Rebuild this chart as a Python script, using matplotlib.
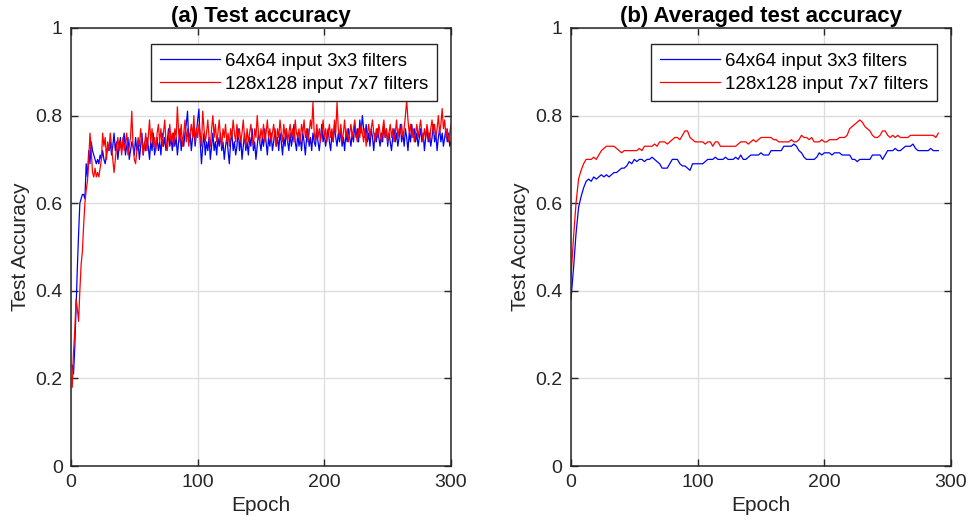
import numpy as np
import matplotlib
matplotlib.use('Agg')
import matplotlib.pyplot as plt

plt.rcParams['font.family'] = ['Liberation Sans', 'DejaVu Sans']

# (a) raw test accuracy, epochs 1..300
blue_a = [
    0.23, 0.21, 0.27, 0.36, 0.45, 0.53, 0.60, 0.61, 0.62, 0.62, 0.61, 0.69, 0.66, 0.72, 0.69, 0.74, 0.72, 0.71, 0.70, 0.69,
    0.70, 0.69, 0.71, 0.70, 0.72, 0.70, 0.69, 0.71, 0.73, 0.72, 0.74, 0.71, 0.73, 0.76, 0.72, 0.74, 0.70, 0.73, 0.75, 0.72,
    0.74, 0.76, 0.71, 0.73, 0.75, 0.70, 0.72, 0.74, 0.73, 0.71, 0.75, 0.72, 0.74, 0.70, 0.73, 0.76, 0.71, 0.74, 0.72, 0.75,
    0.73, 0.70, 0.74, 0.72, 0.76, 0.71, 0.73, 0.75, 0.72, 0.74, 0.71, 0.76, 0.73, 0.75, 0.72, 0.74, 0.77, 0.73, 0.75, 0.72,
    0.76, 0.73, 0.75, 0.71, 0.74, 0.77, 0.72, 0.75, 0.73, 0.76, 0.78, 0.81, 0.74, 0.76, 0.72, 0.75, 0.77, 0.73, 0.76, 0.79,
    0.815, 0.74, 0.69, 0.73, 0.76, 0.71, 0.74, 0.72, 0.75, 0.70, 0.73, 0.76, 0.72, 0.74, 0.71, 0.75, 0.73, 0.76, 0.72, 0.74,
    0.70, 0.73, 0.75, 0.72, 0.69, 0.74, 0.76, 0.72, 0.74, 0.71, 0.73, 0.77, 0.72, 0.75, 0.70, 0.73, 0.76, 0.72, 0.74, 0.71,
    0.75, 0.73, 0.77, 0.72, 0.74, 0.70, 0.73, 0.76, 0.74, 0.72, 0.75, 0.73, 0.77, 0.74, 0.71, 0.75, 0.73, 0.76, 0.72, 0.74,
    0.77, 0.73, 0.75, 0.72, 0.76, 0.74, 0.71, 0.75, 0.73, 0.77, 0.74, 0.72, 0.76, 0.73, 0.75, 0.78, 0.74, 0.72, 0.76, 0.73,
    0.75, 0.72, 0.76, 0.74, 0.71, 0.75, 0.77, 0.73, 0.75, 0.72, 0.76, 0.74, 0.73, 0.77, 0.74, 0.72, 0.75, 0.78, 0.74, 0.76,
    0.73, 0.75, 0.77, 0.74, 0.72, 0.76, 0.74, 0.78, 0.75, 0.73, 0.76, 0.74, 0.77, 0.73, 0.75, 0.72, 0.76, 0.74, 0.77, 0.75,
    0.73, 0.76, 0.74, 0.78, 0.75, 0.77, 0.74, 0.79, 0.76, 0.80, 0.77, 0.75, 0.78, 0.74, 0.76, 0.73, 0.77, 0.75, 0.72, 0.76,
    0.74, 0.77, 0.75, 0.73, 0.76, 0.74, 0.78, 0.75, 0.77, 0.73, 0.76, 0.74, 0.72, 0.75, 0.77, 0.74, 0.76, 0.73, 0.75, 0.78,
    0.74, 0.76, 0.73, 0.77, 0.75, 0.72, 0.76, 0.74, 0.78, 0.75, 0.77, 0.74, 0.76, 0.73, 0.75, 0.77, 0.74, 0.76, 0.72, 0.75,
    0.77, 0.74, 0.76, 0.73, 0.75, 0.78, 0.74, 0.76, 0.72, 0.75, 0.77, 0.74, 0.76, 0.73, 0.75, 0.77, 0.74, 0.76, 0.73, 0.74,
]
red_a = [
    0.18, 0.26, 0.31, 0.38, 0.36, 0.33, 0.40, 0.46, 0.49, 0.55, 0.60, 0.63, 0.65, 0.70, 0.76, 0.72, 0.67, 0.66, 0.68, 0.66,
    0.67, 0.66, 0.68, 0.70, 0.76, 0.73, 0.75, 0.70, 0.74, 0.72, 0.76, 0.73, 0.70, 0.67, 0.70, 0.73, 0.75, 0.72, 0.74, 0.71,
    0.75, 0.72, 0.74, 0.76, 0.71, 0.73, 0.75, 0.81, 0.73, 0.70, 0.69, 0.72, 0.75, 0.73, 0.77, 0.74, 0.71, 0.73, 0.76, 0.72,
    0.75, 0.79, 0.74, 0.77, 0.73, 0.75, 0.72, 0.76, 0.78, 0.74, 0.77, 0.73, 0.76, 0.79, 0.74, 0.72, 0.75, 0.78, 0.74, 0.76,
    0.73, 0.77, 0.75, 0.82, 0.76, 0.74, 0.78, 0.73, 0.76, 0.79, 0.74, 0.77, 0.73, 0.76, 0.78, 0.75, 0.80, 0.74, 0.77, 0.75,
    0.78, 0.76, 0.73, 0.81, 0.77, 0.74, 0.76, 0.79, 0.75, 0.73, 0.77, 0.80, 0.75, 0.78, 0.74, 0.76, 0.79, 0.75, 0.73, 0.77,
    0.75, 0.78, 0.74, 0.76, 0.73, 0.77, 0.75, 0.79, 0.76, 0.74, 0.78, 0.75, 0.77, 0.74, 0.76, 0.79, 0.75, 0.73, 0.77, 0.74,
    0.76, 0.78, 0.75, 0.73, 0.77, 0.75, 0.80, 0.76, 0.74, 0.77, 0.75, 0.78, 0.74, 0.76, 0.79, 0.75, 0.77, 0.74, 0.76, 0.78,
    0.75, 0.73, 0.77, 0.75, 0.79, 0.76, 0.74, 0.78, 0.75, 0.77, 0.74, 0.76, 0.78, 0.75, 0.77, 0.74, 0.79, 0.76, 0.75, 0.77,
    0.74, 0.78, 0.76, 0.79, 0.75, 0.77, 0.74, 0.76, 0.79, 0.77, 0.83, 0.76, 0.74, 0.78, 0.75, 0.77, 0.74, 0.76, 0.79, 0.75,
    0.77, 0.74, 0.76, 0.78, 0.75, 0.77, 0.74, 0.79, 0.76, 0.83, 0.77, 0.75, 0.78, 0.74, 0.76, 0.79, 0.75, 0.77, 0.74, 0.76,
    0.78, 0.75, 0.77, 0.79, 0.76, 0.74, 0.77, 0.75, 0.78, 0.76, 0.74, 0.77, 0.73, 0.76, 0.78, 0.75, 0.77, 0.79, 0.76, 0.74,
    0.77, 0.75, 0.78, 0.76, 0.74, 0.77, 0.79, 0.75, 0.77, 0.74, 0.76, 0.78, 0.75, 0.77, 0.74, 0.76, 0.79, 0.75, 0.77, 0.76,
    0.78, 0.75, 0.77, 0.80, 0.835, 0.79, 0.76, 0.78, 0.75, 0.77, 0.74, 0.76, 0.78, 0.75, 0.77, 0.79, 0.76, 0.74, 0.77, 0.75,
    0.78, 0.76, 0.74, 0.77, 0.79, 0.76, 0.78, 0.75, 0.77, 0.80, 0.76, 0.78, 0.816, 0.77, 0.79, 0.75, 0.77, 0.74, 0.76, 0.78,
]

# (b) averaged test accuracy, every 2 epochs from 0 to 290
blue_b = [
    0.38, 0.45, 0.53, 0.59, 0.615, 0.635, 0.65, 0.655, 0.65, 0.66,
    0.655, 0.66, 0.665, 0.66, 0.665, 0.66, 0.665, 0.67, 0.67, 0.675,
    0.68, 0.68, 0.685, 0.695, 0.69, 0.70, 0.695, 0.70, 0.70, 0.695,
    0.70, 0.70, 0.705, 0.70, 0.695, 0.69, 0.68, 0.68, 0.68, 0.69,
    0.70, 0.70, 0.70, 0.69, 0.685, 0.685, 0.68, 0.675, 0.69, 0.69,
    0.69, 0.69, 0.69, 0.695, 0.70, 0.70, 0.70, 0.705, 0.70, 0.70,
    0.70, 0.705, 0.70, 0.70, 0.70, 0.705, 0.70, 0.71, 0.70, 0.70,
    0.705, 0.71, 0.71, 0.71, 0.71, 0.715, 0.71, 0.71, 0.71, 0.72,
    0.72, 0.72, 0.72, 0.72, 0.73, 0.73, 0.73, 0.73, 0.735, 0.73,
    0.72, 0.715, 0.705, 0.70, 0.70, 0.70, 0.70, 0.705, 0.715, 0.71,
    0.715, 0.715, 0.715, 0.71, 0.715, 0.715, 0.715, 0.71, 0.71, 0.71,
    0.71, 0.70, 0.70, 0.695, 0.70, 0.70, 0.70, 0.70, 0.70, 0.71,
    0.71, 0.71, 0.71, 0.70, 0.71, 0.72, 0.72, 0.72, 0.725, 0.72,
    0.72, 0.725, 0.73, 0.73, 0.73, 0.735, 0.725, 0.72, 0.72, 0.72,
    0.72, 0.72, 0.725, 0.72, 0.72, 0.72,
]
red_b = [
    0.43, 0.52, 0.60, 0.655, 0.675, 0.69, 0.70, 0.70, 0.70, 0.705,
    0.70, 0.71, 0.72, 0.725, 0.73, 0.73, 0.73, 0.73, 0.725, 0.72,
    0.715, 0.72, 0.72, 0.72, 0.72, 0.72, 0.72, 0.725, 0.72, 0.73,
    0.73, 0.73, 0.73, 0.735, 0.73, 0.74, 0.74, 0.74, 0.735, 0.74,
    0.745, 0.75, 0.75, 0.745, 0.755, 0.765, 0.765, 0.75, 0.745, 0.74,
    0.74, 0.74, 0.74, 0.735, 0.74, 0.74, 0.73, 0.74, 0.74, 0.73,
    0.73, 0.73, 0.73, 0.73, 0.73, 0.73, 0.735, 0.74, 0.74, 0.74,
    0.735, 0.74, 0.745, 0.74, 0.745, 0.75, 0.75, 0.75, 0.75, 0.75,
    0.745, 0.745, 0.74, 0.74, 0.74, 0.74, 0.74, 0.745, 0.74, 0.74,
    0.745, 0.755, 0.75, 0.75, 0.745, 0.75, 0.74, 0.74, 0.74, 0.745,
    0.74, 0.74, 0.745, 0.745, 0.745, 0.745, 0.75, 0.75, 0.75, 0.755,
    0.77, 0.775, 0.78, 0.785, 0.79, 0.785, 0.775, 0.77, 0.765, 0.755,
    0.75, 0.75, 0.755, 0.765, 0.765, 0.755, 0.75, 0.755, 0.75, 0.755,
    0.75, 0.75, 0.75, 0.75, 0.755, 0.755, 0.755, 0.755, 0.755, 0.755,
    0.755, 0.755, 0.755, 0.755, 0.75, 0.76,
]

labels = ['64x64 input 3x3 filters', '128x128 input 7x7 filters']
titles = ['(a) Test accuracy', '(b) Averaged test accuracy']

ep_a = np.arange(1, len(blue_a) + 1)
ep_b_blue = np.arange(len(blue_b)) * 2
ep_b_red = np.arange(len(red_b)) * 2

fig = plt.figure(figsize=(9.71, 5.31), dpi=100)
ax1 = fig.add_axes([0.0731, 0.1224, 0.3914, 0.8249])
ax2 = fig.add_axes([0.588, 0.1224, 0.3914, 0.8249])

ax1.plot(ep_a, blue_a, color='#0000ff', lw=0.9, label=labels[0])
ax1.plot(ep_a, red_a, color='#ff0000', lw=0.9, label=labels[1])
ax2.plot(ep_b_blue, blue_b, color='#0000ff', lw=0.9, label=labels[0])
ax2.plot(ep_b_red, red_b, color='#ff0000', lw=0.9, label=labels[1])

dark = '#262626'
for ax, t in zip([ax1, ax2], titles):
    ax.set_xlim(0, 300)
    ax.set_ylim(0, 1)
    ax.set_xticks([0, 100, 200, 300])
    ax.set_yticks([0, 0.2, 0.4, 0.6, 0.8, 1])
    ax.set_yticklabels(['0', '0.2', '0.4', '0.6', '0.8', '1'])
    ax.grid(True, color='#dcdcdc', lw=0.9)
    ax.set_axisbelow(True)
    ax.tick_params(direction='in', length=5, width=1, top=True, right=True,
                   labelsize=14, colors=dark, pad=6)
    for s in ax.spines.values():
        s.set_color(dark)
        s.set_linewidth(1.1)
    ax.set_xlabel('Epoch', fontsize=15, color=dark, labelpad=3)
    ax.set_ylabel('Test Accuracy', fontsize=15, color=dark, labelpad=4)
    ax.set_title(t, fontsize=16, fontweight='bold', color='black', pad=4)
    leg = ax.legend(loc='upper right', bbox_to_anchor=(0.963, 0.963), borderaxespad=0,
                    fontsize=13.5, handlelength=3.2, handletextpad=0.3,
                    fancybox=False, framealpha=1, edgecolor=dark,
                    borderpad=0.45, labelspacing=0.3)
    leg.get_frame().set_linewidth(1.0)

fig.savefig('out.png', dpi=100)
